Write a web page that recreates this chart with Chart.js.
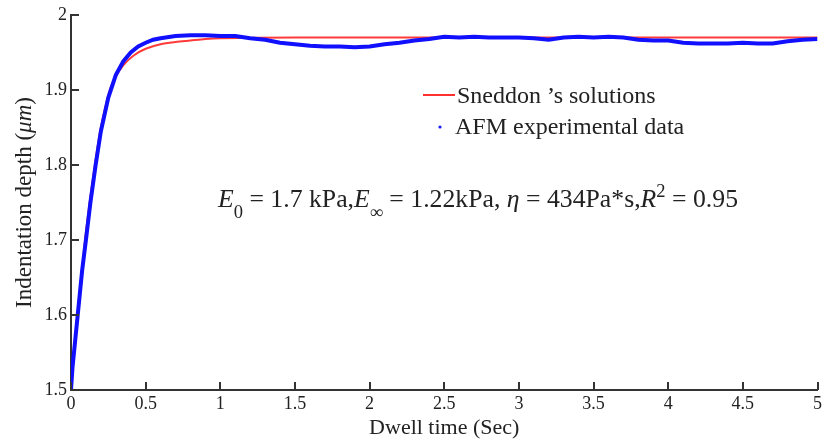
<!DOCTYPE html>
<html>
<head>
<meta charset="utf-8">
<script src="https://cdn.jsdelivr.net/npm/chart.js@4.4.1/dist/chart.umd.min.js"></script>
<style>
  html, body { margin: 0; padding: 0; background: #fff; }
  #wrap { width: 825px; height: 443px; position: relative; }
</style>
</head>
<body>
<div id="wrap"><canvas id="depthChart" width="825" height="443"></canvas></div>
<script>
// tick labels
const xTickLabels = ['0', '0.5', '1', '1.5', '2', '2.5', '3', '3.5', '4', '4.5', '5'];
const yTickLabels = ['1.5', '1.6', '1.7', '1.8', '1.9', '2'];

// Sneddon's solution (fit)
const sneddonTime  = [0, 0.02, 0.043, 0.07, 0.094, 0.125, 0.16, 0.2, 0.26, 0.3, 0.35, 0.42, 0.5, 0.6, 0.7, 0.8, 0.9, 1.0, 1.5, 2.0, 2.5, 3.0, 3.5, 4.0, 4.5, 5.0];
const sneddonDepth = [1.5, 1.55, 1.6, 1.65, 1.7, 1.75, 1.8, 1.85, 1.9, 1.918, 1.933, 1.946, 1.955, 1.961, 1.964, 1.966, 1.968, 1.969, 1.97, 1.97, 1.97, 1.97, 1.97, 1.97, 1.97, 1.97];

// AFM experimental data
const afmTime  = [0, 0.01, 0.02, 0.03, 0.045, 0.06, 0.075, 0.1, 0.13, 0.165, 0.2, 0.25, 0.3, 0.35, 0.4, 0.45, 0.5, 0.55, 0.6, 0.7, 0.8, 0.9, 1.0, 1.1, 1.2, 1.3, 1.4, 1.5, 1.6, 1.7, 1.8, 1.9, 2.0, 2.1, 2.2, 2.3, 2.4, 2.5, 2.6, 2.7, 2.8, 2.9, 3.0, 3.1, 3.2, 3.3, 3.4, 3.5, 3.6, 3.7, 3.8, 3.9, 4.0, 4.1, 4.2, 4.3, 4.4, 4.5, 4.6, 4.7, 4.8, 4.9, 5.0];
const afmDepth = [1.5, 1.53, 1.55, 1.57, 1.6, 1.63, 1.66, 1.7, 1.75, 1.8, 1.845, 1.89, 1.92, 1.938, 1.95, 1.958, 1.963, 1.967, 1.969, 1.972, 1.973, 1.973, 1.972, 1.972, 1.969, 1.967, 1.963, 1.961, 1.959, 1.958, 1.958, 1.957, 1.958, 1.961, 1.963, 1.966, 1.968, 1.971, 1.970, 1.971, 1.970, 1.970, 1.970, 1.969, 1.967, 1.970, 1.971, 1.970, 1.971, 1.970, 1.967, 1.966, 1.966, 1.963, 1.962, 1.962, 1.962, 1.963, 1.962, 1.962, 1.965, 1.967, 1.968];

const SERIF = "'Liberation Serif', 'Times New Roman', serif";
const INK = '#222';

function toPoints(xs, ys) {
  return xs.map((x, i) => ({ x: x, y: ys[i] }));
}

// inward tick marks, like the original plot
const inwardTicks = {
  id: 'inwardTicks',
  afterDraw(chart) {
    const { ctx, chartArea, scales } = chart;
    ctx.save();
    ctx.strokeStyle = '#333';
    ctx.lineWidth = 2;
    scales.x.ticks.forEach(t => {
      const px = Math.round(scales.x.getPixelForValue(t.value));
      ctx.beginPath();
      ctx.moveTo(px, chartArea.bottom);
      ctx.lineTo(px, chartArea.bottom - 8);
      ctx.stroke();
    });
    scales.y.ticks.forEach(t => {
      const py = Math.round(scales.y.getPixelForValue(t.value));
      ctx.beginPath();
      ctx.moveTo(chartArea.left, py);
      ctx.lineTo(chartArea.left + 8, py);
      ctx.stroke();
    });
    ctx.restore();
  }
};

// axis titles, legend and fit annotation
const textLayer = {
  id: 'textLayer',
  afterDraw(chart) {
    const { ctx, chartArea } = chart;
    ctx.save();
    ctx.fillStyle = INK;

    // x title
    ctx.font = `22px ${SERIF}`;
    ctx.textAlign = 'center';
    ctx.textBaseline = 'alphabetic';
    ctx.fillText('Dwell time (Sec)', (chartArea.left + chartArea.right) / 2, 434);

    // y title with italic unit
    const parts = [
      { t: 'Indentation depth (', f: `23px ${SERIF}` },
      { t: 'μm', f: `italic 23px ${SERIF}` },
      { t: ')', f: `23px ${SERIF}` }
    ];
    let total = 0;
    parts.forEach(p => { ctx.font = p.f; p.w = ctx.measureText(p.t).width; total += p.w; });
    ctx.translate(31, (chartArea.top + chartArea.bottom) / 2);
    ctx.rotate(-Math.PI / 2);
    ctx.textAlign = 'left';
    let cx = -total / 2;
    parts.forEach(p => { ctx.font = p.f; ctx.fillText(p.t, cx, 0); cx += p.w; });
    ctx.setTransform(1, 0, 0, 1, 0, 0);

    // legend
    ctx.strokeStyle = '#ff3030';
    ctx.lineWidth = 2;
    ctx.beginPath();
    ctx.moveTo(423, 95);
    ctx.lineTo(455, 95);
    ctx.stroke();
    ctx.fillStyle = '#1a1aff';
    ctx.beginPath();
    ctx.arc(440, 127, 1.6, 0, Math.PI * 2);
    ctx.fill();
    ctx.fillStyle = INK;
    ctx.font = `24px ${SERIF}`;
    ctx.textAlign = 'left';
    ctx.fillText('Sneddon \u2019s solutions', 457, 103);
    ctx.fillText('AFM experimental data', 455, 134);

    // fit annotation
    const size = 25;
    const norm = `${size}px ${SERIF}`;
    const ital = `italic ${size}px ${SERIF}`;
    const small = `${Math.round(size * 0.7)}px ${SERIF}`;
    const runs = [
      { t: 'E', f: ital, dy: 0 },
      { t: '0', f: small, dy: 11 },
      { t: ' = 1.7 kPa,', f: norm, dy: 0 },
      { t: 'E', f: ital, dy: 0 },
      { t: '\u221E', f: small, dy: 11 },
      { t: ' = 1.22kPa, ', f: norm, dy: 0 },
      { t: '\u03B7', f: ital, dy: 0 },
      { t: ' = 434Pa*s,', f: norm, dy: 0 },
      { t: 'R', f: ital, dy: 0 },
      { t: '2', f: small, dy: -10 },
      { t: ' = 0.95', f: norm, dy: 0 }
    ];
    let w = 0;
    runs.forEach(r => { ctx.font = r.f; r.w = ctx.measureText(r.t).width; w += r.w; });
    const sx = 520 / w;
    ctx.translate(218, 207);
    ctx.scale(sx, 1);
    let ax = 0;
    runs.forEach(r => { ctx.font = r.f; ctx.fillText(r.t, ax, r.dy); ax += r.w; });
    ctx.restore();
  }
};

new Chart(document.getElementById('depthChart'), {
  type: 'line',
  data: {
    datasets: [
      {
        label: 'AFM experimental data',
        data: toPoints(afmTime, afmDepth),
        borderColor: '#1010ff',
        borderWidth: 4,
        pointRadius: 0,
        tension: 0,
        order: 1
      },
      {
        label: "Sneddon's solutions",
        data: toPoints(sneddonTime, sneddonDepth),
        borderColor: '#ff3a3a',
        borderWidth: 2,
        pointRadius: 0,
        tension: 0.3,
        order: 2
      }
    ]
  },
  options: {
    responsive: false,
    animation: false,
    layout: { padding: { top: 15, right: 6, left: 0, bottom: 0 } },
    plugins: {
      legend: { display: false },
      tooltip: { enabled: false }
    },
    scales: {
      x: {
        type: 'linear',
        min: 0,
        max: 5,
        ticks: {
          stepSize: 0.5,
          color: INK,
          padding: 3,
          maxRotation: 0,
          font: { family: SERIF, size: 18 },
          callback: (v, i) => xTickLabels[i]
        },
        grid: { display: true, drawOnChartArea: false, drawTicks: false },
        border: { display: true, color: '#333', width: 2 },
        afterFit: s => { s.height = 53; }
      },
      y: {
        type: 'linear',
        min: 1.5,
        max: 2,
        ticks: {
          stepSize: 0.1,
          color: INK,
          padding: 4,
          font: { family: SERIF, size: 18 },
          callback: (v, i) => yTickLabels[i]
        },
        grid: { display: true, drawOnChartArea: false, drawTicks: false },
        border: { display: true, color: '#333', width: 2 },
        afterFit: s => { s.width = 71; }
      }
    }
  },
  plugins: [inwardTicks, textLayer]
});
</script>
</body>
</html>
